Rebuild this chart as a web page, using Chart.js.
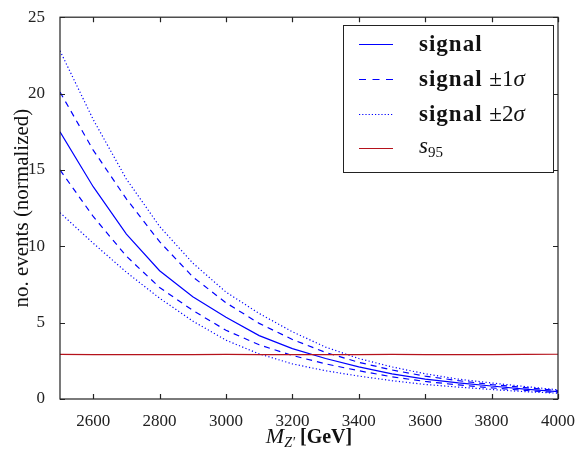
<!DOCTYPE html>
<html>
<head>
<meta charset="utf-8">
<script src="https://cdn.jsdelivr.net/npm/chart.js@4.4.0/dist/chart.umd.min.js"></script>
<style>
html,body{margin:0;padding:0;background:#fff;}
canvas{display:block;}
</style>
</head>
<body>
<canvas id="c" width="579" height="451"></canvas>
<script>
// ---- data ----
const masses = [2500,2600,2700,2800,2900,3000,3100,3200,3300,3400,3500,3600,3700,3800,3900,4000];
const signal = [17.5,13.9,10.8,8.4,6.7,5.35,4.15,3.3,2.65,2.1,1.65,1.3,1.05,0.85,0.65,0.48];
const signalUp1 = [20.1,16.3,13.1,10.3,8.0,6.3,4.95,3.9,3.05,2.4,1.9,1.5,1.2,0.95,0.75,0.55];
const signalUp2 = [22.8,18.3,14.4,11.3,8.9,7.0,5.6,4.4,3.4,2.65,2.1,1.65,1.3,1.05,0.82,0.6];
const signalDn1 = [15.0,11.95,9.35,7.3,5.8,4.5,3.55,2.85,2.3,1.85,1.45,1.15,0.92,0.73,0.56,0.42];
const signalDn2 = [12.2,10.2,8.3,6.6,5.1,3.85,2.95,2.3,1.85,1.5,1.2,0.95,0.78,0.62,0.48,0.38];
const s95 = [2.92,2.9,2.9,2.91,2.9,2.92,2.9,2.9,2.91,2.9,2.92,2.9,2.91,2.9,2.92,2.93];
const xTickValues = [2600,2800,3000,3200,3400,3600,3800,4000];
const yTickValues = [0,5,10,15,20,25];
const legendLabels = ['signal','signal \u00b11\u03c3','signal \u00b12\u03c3','s95'];

const BLUE = '#0000ff';
const RED = '#b5121b';
const SERIF = '"Liberation Serif", "DejaVu Serif", serif';

const toXY = arr => masses.map((m,i) => ({x:m, y:arr[i]}));

const line = (data, color, dash) => ({
  data: toXY(data), borderColor: color, borderWidth: 1.2, borderDash: dash,
  pointRadius: 0, tension: 0, fill: false
});

const framePlugin = {
  id: 'frame',
  afterDatasetsDraw(chart) {
    const {ctx, chartArea: a, scales: {x, y}} = chart;
    ctx.save();
    ctx.strokeStyle = '#222';
    ctx.lineWidth = 1.2;
    ctx.strokeRect(a.left, a.top, a.right - a.left, a.bottom - a.top);
    ctx.beginPath();
    const L = 5;
    xTickValues.forEach(v => {
      const px = Math.round(x.getPixelForValue(v)) + 0.5;
      ctx.moveTo(px, a.bottom); ctx.lineTo(px, a.bottom - L);
      ctx.moveTo(px, a.top); ctx.lineTo(px, a.top + L);
    });
    yTickValues.forEach(v => {
      const py = Math.round(y.getPixelForValue(v)) + 0.5;
      ctx.moveTo(a.left, py); ctx.lineTo(a.left + L, py);
      ctx.moveTo(a.right, py); ctx.lineTo(a.right - L, py);
    });
    ctx.stroke();
    ctx.restore();
  }
};

const labelsPlugin = {
  id: 'labels',
  afterDraw(chart) {
    const {ctx, chartArea: a} = chart;
    ctx.save();
    ctx.fillStyle = '#111';
    // y-axis title
    ctx.save();
    ctx.translate(22, (a.top + a.bottom) / 2);
    ctx.rotate(-Math.PI / 2);
    ctx.textAlign = 'center';
    ctx.textBaseline = 'middle';
    ctx.font = '21px ' + SERIF;
    ctx.fillText('no. events (normalized)', 0, 0);
    ctx.restore();

    // x-axis title: M_{Z'} [GeV]
    const parts = [
      {t: 'M', f: 'italic 22px ' + SERIF, dy: 0},
      {t: 'Z\u2032', f: 'italic 14px ' + SERIF, dy: 4},
      {t: ' [GeV]', f: 'bold 20px ' + SERIF, dy: 0}
    ];
    let total = 0;
    parts.forEach(p => { ctx.font = p.f; p.w = ctx.measureText(p.t).width; total += p.w; });
    let cx = (a.left + a.right) / 2 - total / 2;
    const base = 443;
    ctx.textBaseline = 'alphabetic';
    ctx.textAlign = 'left';
    parts.forEach(p => { ctx.font = p.f; ctx.fillText(p.t, cx, base + p.dy); cx += p.w; });

    // legend box
    const bx = 343, by = 25, bw = 210, bh = 147;
    ctx.fillStyle = '#fff';
    ctx.fillRect(bx, by, bw, bh);
    ctx.strokeStyle = '#222';
    ctx.lineWidth = 1;
    ctx.strokeRect(bx + 0.5, by + 0.5, bw, bh);
    const rows = [44, 79, 114, 148];
    const styles = [
      {c: BLUE, d: []}, {c: BLUE, d: [7, 6.5]}, {c: BLUE, d: [1.2, 2]}, {c: RED, d: []}
    ];
    rows.forEach((ry, i) => {
      ctx.beginPath();
      ctx.strokeStyle = styles[i].c;
      ctx.setLineDash(styles[i].d);
      ctx.lineWidth = 1.2;
      ctx.moveTo(359, ry + 0.5); ctx.lineTo(393, ry + 0.5);
      ctx.stroke();
    });
    ctx.setLineDash([]);
    ctx.fillStyle = '#111';
    ctx.textBaseline = 'alphabetic';
    const tx = 419;
    const drawRuns = (runs, x0, yb) => {
      let xx = x0;
      runs.forEach(r => {
        ctx.font = r.f;
        if ('ls' in r) ctx.letterSpacing = r.ls; else ctx.letterSpacing = '0px';
        ctx.fillText(r.t, xx, yb + (r.dy || 0));
        xx += ctx.measureText(r.t).width;
      });
      ctx.letterSpacing = '0px';
    };
    const boldF = 'bold 23px ' + SERIF;
    const regF = '23px ' + SERIF;
    const itF = 'italic 23px ' + SERIF;
    const word = legendLabels[0];
    drawRuns([{t: word, f: boldF, ls: '1px'}], tx, rows[0] + 7);
    drawRuns([{t: word + ' ', f: boldF, ls: '1px'}, {t: legendLabels[1].slice(7, 9), f: regF}, {t: legendLabels[1].slice(9), f: itF}], tx, rows[1] + 7);
    drawRuns([{t: word + ' ', f: boldF, ls: '1px'}, {t: legendLabels[2].slice(7, 9), f: regF}, {t: legendLabels[2].slice(9), f: itF}], tx, rows[2] + 7);
    drawRuns([{t: legendLabels[3].slice(0, 1), f: itF}, {t: legendLabels[3].slice(1), f: '15px ' + SERIF, dy: 4}], tx, rows[3] + 5);
    ctx.restore();
  }
};

new Chart(document.getElementById('c'), {
  type: 'line',
  data: {
    datasets: [
      line(s95, RED, []),
      line(signal, BLUE, []),
      line(signalUp1, BLUE, [6, 5]),
      line(signalDn1, BLUE, [6, 5]),
      line(signalUp2, BLUE, [1.2, 2.3]),
      line(signalDn2, BLUE, [1.2, 2.3])
    ]
  },
  options: {
    responsive: false,
    animation: false,
    layout: {padding: {top: 14, right: 21, left: 0, bottom: 0}},
    plugins: {legend: {display: false}, tooltip: {enabled: false}},
    scales: {
      x: {
        type: 'linear', min: 2500, max: 4000,
        afterBuildTicks: s => { s.ticks = xTickValues.map(v => ({value: v})); },
        afterFit: s => { s.height = 52; },
        grid: {display: false}, border: {display: false},
        ticks: {padding: 4, maxRotation: 0, autoSkip: false, color: '#222',
          font: {family: SERIF, size: 17}, callback: v => String(v)}
      },
      y: {
        type: 'linear', min: 0, max: 25,
        afterBuildTicks: s => { s.ticks = yTickValues.map(v => ({value: v})); },
        afterFit: s => { s.width = 60; },
        grid: {display: false}, border: {display: false},
        ticks: {padding: 7, color: '#222',
          font: {family: SERIF, size: 17}, callback: v => String(v)}
      }
    }
  },
  plugins: [framePlugin, labelsPlugin]
});
</script>
</body>
</html>
